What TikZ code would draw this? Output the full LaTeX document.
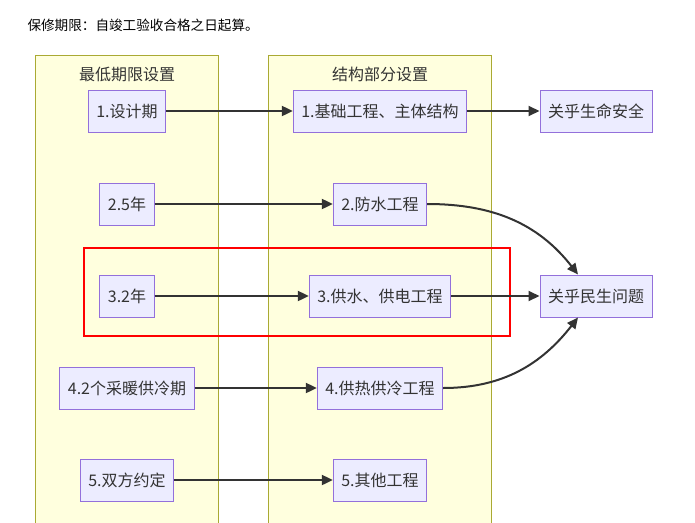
\documentclass[tikz,border=0pt]{standalone}
\usepackage{fontspec}
\setmainfont{Noto Sans CJK SC}
\usetikzlibrary{arrows.meta}
\definecolor{boxfill}{HTML}{ECECFF}
\definecolor{boxline}{HTML}{9370DB}
\definecolor{groupfill}{HTML}{FFFFDE}
\definecolor{groupline}{HTML}{AAAA33}
\definecolor{linkcol}{HTML}{333333}
\begin{document}
\begin{tikzpicture}[x=1pt,y=-1pt,
	every node/.style = {font=\fontsize{16}{19}\selectfont, text=linkcol},
	box/.style = {draw=boxline, fill=boxfill, line width=1pt, minimum height=42pt, inner xsep=8pt, inner ysep=0pt},
	group/.style = {draw=groupline, fill=groupfill, line width=1pt},
	link/.style = {draw=linkcol, line width=2pt, -{Triangle[length=11pt,width=10pt]}}]
	
	\useasboundingbox (0,0) rectangle (695,522);
	\clip (0,0) rectangle (695,522);
	
	\node[anchor=west, text=black, font=\fontsize{13.6}{16}\selectfont] (title) at (24,25) {保修期限：自竣工验收合格之日起算。};
	
	\draw[group] (35,55) rectangle (218,540);
	\draw[group] (268,55) rectangle (491,540);
	\node (minlab) at (127,74) {最低期限设置};
	\node (partlab) at (380,74) {结构部分设置};
	
	\draw[red, line width=1.5pt] (84,248) rectangle (510,336);
	
	\node[box] (term1) at (127,111) {1.设计期};
	\node[box] (term2) at (127,204) {2.5年};
	\node[box] (term3) at (127,296) {3.2年};
	\node[box] (term4) at (127,388) {4.2个采暖供冷期};
	\node[box] (term5) at (127,480) {5.双方约定};
	
	\node[box] (part1) at (380,111) {1.基础工程、主体结构};
	\node[box] (part2) at (380,204) {2.防水工程};
	\node[box] (part3) at (380,296) {3.供水、供电工程};
	\node[box] (part4) at (380,388) {4.供热供冷工程};
	\node[box] (part5) at (380,480) {5.其他工程};
	
	\node[box] (life) at (596,111) {关乎生命安全};
	\node[box] (live) at (596,296) {关乎民生问题};
	
	\draw[link] (term1) -- (part1);
	\draw[link] (term2) -- (part2);
	\draw[link] (term3) -- (part3);
	\draw[link] (term4) -- (part4);
	\draw[link] (term5) -- (part5);
	
	\draw[link] (part1) -- (life);
	\draw[link] (part3) -- (live);
	\draw[link] (part2.east) to[out=0, in=128] ([xshift=-18pt]live.north);
	\draw[link] (part4.east) to[out=0, in=-128] ([xshift=-18pt]live.south);
\end{tikzpicture}
\end{document}
